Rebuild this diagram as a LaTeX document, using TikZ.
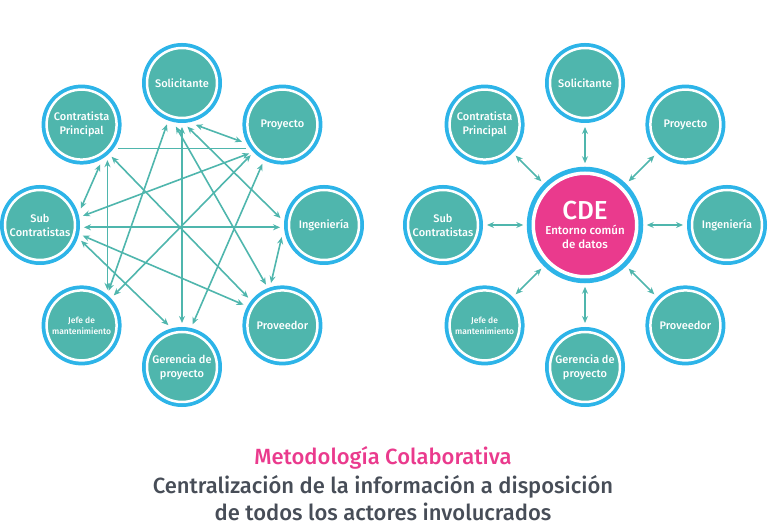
\documentclass[tikz,border=0pt]{standalone}
\usepackage{fontspec}
\setmainfont{Fira Sans}[UprightFont={* Medium}]
\usepackage{xcolor}
\usetikzlibrary{arrows.meta}
\definecolor{tealfill}{HTML}{4FB6AD}
\definecolor{ringblue}{HTML}{2DB4E8}
\definecolor{cdepink}{HTML}{EA3A8D}
\definecolor{textgray}{HTML}{474D57}

\begin{document}
\begin{tikzpicture}[x=1pt,y=1pt,>={Stealth[length=7pt,width=6pt]},
  every node/.style={align=center,text=white},
  actor/.style={circle,fill=tealfill,draw=white,line width=2.5pt,minimum size=70pt,inner sep=0pt,outer sep=9pt,
    font=\fontsize{11}{14}\selectfont,preaction={draw=ringblue,line width=10pt}},
  cde/.style={circle,fill=cdepink,draw=white,line width=3.5pt,minimum size=103.5pt,inner sep=0pt,outer sep=10pt,
    font=\fontsize{11.5}{14}\selectfont,preaction={draw=ringblue,line width=13pt}},
  link/.style={<->,draw=tealfill,line width=1.6pt}]
  \useasboundingbox (0,0) rectangle (768,529);

  % todos contra todos
  \begin{scope}[shift={(182,304)}]
    \node[actor] (lsol) at (90:142) {Solicitante};
    \node[actor] (lproy) at (45:142) {Proyecto};
    \node[actor] (ling) at (0:142) {Ingeniería};
    \node[actor] (lprov) at (-45:142) {Proveedor};
    \node[actor] (lger) at (-90:142) {Gerencia de\\proyecto};
    \node[actor,font=\fontsize{8.5}{11}\selectfont] (ljefe) at (-135:142) {Jefe de\\mantenimiento};
    \node[actor] (lsub) at (180:142) {Sub\\Contratistas};
    \node[actor] (lcon) at (135:142) {Contratista\\Principal};
  \end{scope}

  \draw[link] (lsol.250) -- (ljefe.52);
  \draw[link] (lsol.270) -- (lger.90);
  \draw[link] (lsol.262) -- (lprov.112);
  \draw[link] (lsol.277) -- (ling.171);
  \draw[link] (lsol.288) -- (lproy.203);
  \draw[link] (lcon.295) -- (lsub.22);
  \draw[link] (lcon.306) -- (ljefe.54);
  \draw[link] (lcon.313) -- (lprov.141);
  \draw[draw=tealfill,line width=1.6pt] (lcon.327) -- (lproy.213);
  \draw[link] (lsub.12) -- (lproy.221);
  \draw[link] (lsub.357) -- (ling.183);
  \draw[link] (lsub.346) -- (lprov.152);
  \draw[link] (lsub.339) -- (lger.108);
  \draw[link] (ljefe.43) -- (lproy.224);
  \draw[link] (lger.76) -- (lproy.243);
  \draw[link] (lprov.105) -- (ling.196);

  % entorno comun
  \begin{scope}[shift={(585,304)}]
    \node[cde] (cde) at (0,0) {\fontsize{26}{28}\selectfont CDE\\[1pt]\fontsize{11.5}{14}\selectfont Entorno común\\\fontsize{11.5}{14}\selectfont de datos};
    \node[actor] (rsol) at (90:142) {Solicitante};
    \node[actor] (rproy) at (45:142) {Proyecto};
    \node[actor] (ring) at (0:142) {Ingeniería};
    \node[actor] (rprov) at (-45:142) {Proveedor};
    \node[actor] (rger) at (-90:142) {Gerencia de\\proyecto};
    \node[actor,font=\fontsize{8.5}{11}\selectfont] (rjefe) at (-135:142) {Jefe de\\mantenimiento};
    \node[actor] (rsub) at (180:142) {Sub\\Contratistas};
    \node[actor] (rcon) at (135:142) {Contratista\\Principal};
  \end{scope}

  \draw[link] (cde.90) -- (rsol.270);
  \draw[link] (cde.45) -- (rproy.225);
  \draw[link] (cde.0) -- (ring.180);
  \draw[link] (cde.-45) -- (rprov.135);
  \draw[link] (cde.-90) -- (rger.90);
  \draw[link] (cde.-135) -- (rjefe.45);
  \draw[link] (cde.180) -- (rsub.0);
  \draw[link] (cde.135) -- (rcon.-45);

  \node[text=cdepink,font=\fontsize{22}{27}\selectfont] (titulo) at (383,71) {Metodología Colaborativa};
  \node[text=textgray,font=\fontsize{22}{27}\selectfont] (bajada) at (383,31) {Centralización de la información a disposición\\de todos los actores involucrados};
\end{tikzpicture}
\end{document}
